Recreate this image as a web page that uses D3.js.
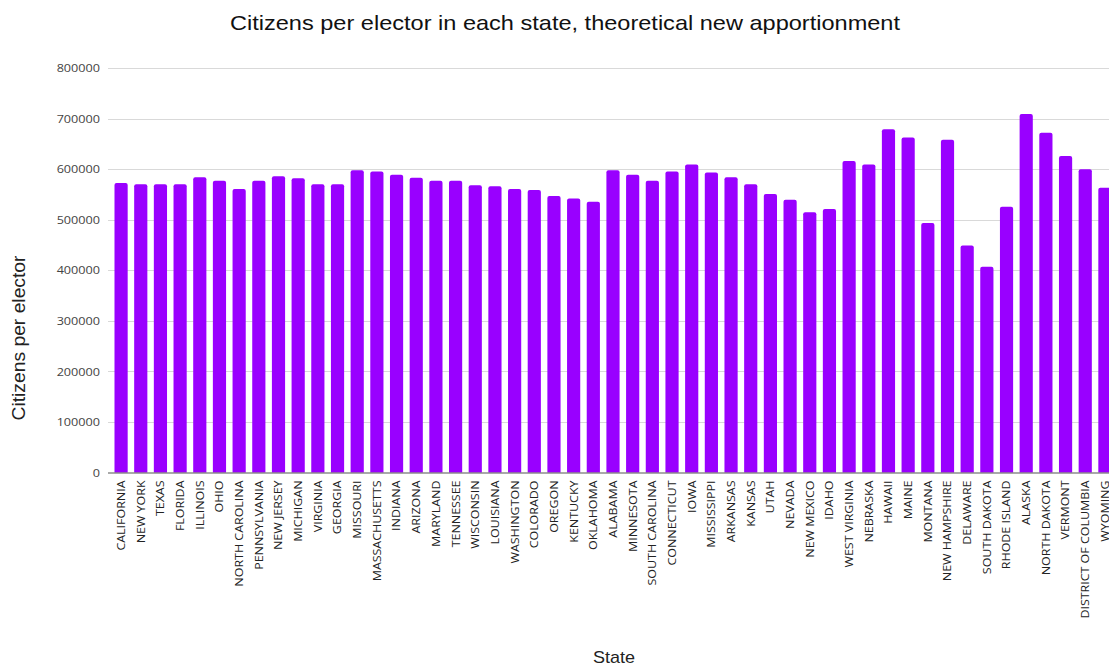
<!DOCTYPE html>
<html><head><meta charset="utf-8">
<script src="https://cdn.jsdelivr.net/npm/d3@7"></script>
<style>body{margin:0;background:#fff}svg{display:block}</style>
</head><body><svg id="c" width="1109" height="667"></svg>
<script>
const states = ["CALIFORNIA","NEW YORK","TEXAS","FLORIDA","ILLINOIS","OHIO","NORTH CAROLINA","PENNSYLVANIA","NEW JERSEY","MICHIGAN","VIRGINIA","GEORGIA","MISSOURI","MASSACHUSETTS","INDIANA","ARIZONA","MARYLAND","TENNESSEE","WISCONSIN","LOUISIANA","WASHINGTON","COLORADO","OREGON","KENTUCKY","OKLAHOMA","ALABAMA","MINNESOTA","SOUTH CAROLINA","CONNECTICUT","IOWA","MISSISSIPPI","ARKANSAS","KANSAS","UTAH","NEVADA","NEW MEXICO","IDAHO","WEST VIRGINIA","NEBRASKA","HAWAII","MAINE","MONTANA","NEW HAMPSHIRE","DELAWARE","SOUTH DAKOTA","RHODE ISLAND","ALASKA","NORTH DAKOTA","VERMONT","DISTRICT OF COLUMBIA","WYOMING"];
const citizensPerElector = [572500,570000,570000,570000,584000,577000,560500,577000,586000,582000,570000,570000,598000,595500,589000,583000,577000,577000,568000,566000,560500,558500,547000,542000,535500,598000,589000,577000,595500,609000,593500,584000,570000,551000,539500,514500,521000,616000,609000,679000,662500,493500,658000,449000,407000,525500,709000,672000,626000,600000,563000];
const yTicks = [0,100000,200000,300000,400000,500000,600000,700000,800000];

(function(){
const svg = d3.select("#c");
const left = 108, bottom = 472.5, topY = 68;
const x = d3.scaleBand().domain(states).range([left, 1118]).paddingInner(0.33).paddingOuter(0.33);
const y = d3.scaleLinear().domain([0, 800000]).range([bottom, topY]);

svg.append("g").selectAll("line").data(yTicks.filter(d=>d>0)).join("line")
  .attr("x1", left).attr("x2", 1109)
  .attr("y1", d=>Math.round(y(d))+0.5).attr("y2", d=>Math.round(y(d))+0.5)
  .attr("stroke", "#d9d9d9").attr("stroke-width", 1);

const yAxis = d3.axisLeft(y).tickValues(yTicks).tickSize(0).tickPadding(8).tickFormat(d3.format("d"));
const ya = svg.append("g").attr("transform", `translate(${left},0)`).call(yAxis);
ya.select(".domain").remove();
ya.selectAll("text").attr("font-family","'Open Sans', sans-serif").attr("font-size",11.5).attr("fill","#444")
  .attr("transform","scale(1.1,1)").attr("x", -8/1.1);

svg.append("g").selectAll("path").data(states).join("path")
  .attr("fill", "#9900ff")
  .attr("d", (s,i)=>{
    const x0 = x(s), w = x.bandwidth(), y0 = y(citizensPerElector[i]), r = 2;
    return `M${x0},${bottom}V${y0+r}Q${x0},${y0} ${x0+r},${y0}H${x0+w-r}Q${x0+w},${y0} ${x0+w},${y0+r}V${bottom}Z`;
  });

const xAxis = d3.axisBottom(x).tickSize(0).tickPadding(0);
const xa = svg.append("g").attr("transform", `translate(0,${bottom})`).call(xAxis);
xa.select(".domain").attr("d", `M${left},0.5H1109`).attr("stroke","#555").attr("stroke-width",1.2);
xa.selectAll("text")
  .attr("font-family","'Open Sans', sans-serif").attr("font-size",11.2).attr("fill","#222")
  .attr("transform","rotate(-90) scale(1.11,1)").attr("text-anchor","end")
  .attr("x",-8/1.11).attr("y",0).attr("dy","0.35em");

svg.append("text").attr("x",565).attr("y",29.5).attr("text-anchor","middle")
  .attr("font-family","'Liberation Sans', Arial, sans-serif").attr("font-size",21).attr("fill","#111")
  .attr("textLength",670).attr("lengthAdjust","spacingAndGlyphs")
  .text("Citizens per elector in each state, theoretical new apportionment");
svg.append("text").attr("transform","translate(24.5,338) rotate(-90)").attr("text-anchor","middle")
  .attr("font-family","'Liberation Sans', Arial, sans-serif").attr("font-size",18).attr("fill","#222")
  .attr("textLength",165).attr("lengthAdjust","spacingAndGlyphs")
  .text("Citizens per elector");
svg.append("text").attr("x",614).attr("y",663).attr("text-anchor","middle")
  .attr("font-family","'Liberation Sans', Arial, sans-serif").attr("font-size",17).attr("fill","#222")
  .attr("textLength",42).attr("lengthAdjust","spacingAndGlyphs")
  .text("State");
})();
</script></body></html>
